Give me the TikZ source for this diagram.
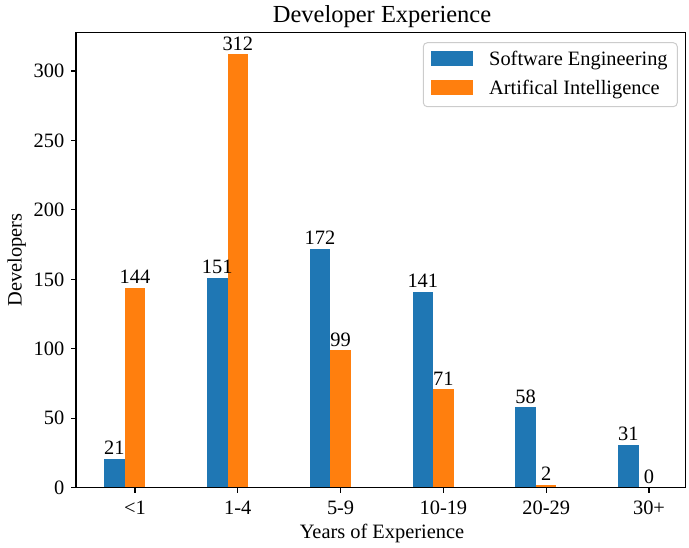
\documentclass[tikz,border=0pt]{standalone}
\usepackage{fontspec}
\setmainfont{Liberation Serif}
\definecolor{seblue}{HTML}{1F77B4}
\definecolor{aiorange}{HTML}{FF7F0E}
\definecolor{legendgray}{HTML}{CCCCCC}
\begin{document}
\begin{tikzpicture}[x=1pt,y=-1pt,
  txt/.style={inner sep=0pt, font=\fontsize{20.4}{24}\selectfont},
  axisline/.style={line width=1.1pt, black},
  tickline/.style={line width=1.1pt, black}]
\useasboundingbox (0,0) rectangle (689,548);

% bars and their value labels (x in category slots, y = 487.7 - 1.389*value)
\foreach \i/\a/\b in {0/21/144, 1/151/312, 2/172/99, 3/141/71, 4/58/2, 5/31/0} {
  \pgfmathsetmacro\tx{135+102.8*\i}
  \pgfmathsetmacro\ya{487.7-1.389*\a}
  \pgfmathsetmacro\yb{487.7-1.389*\b}
  \fill[seblue] ({\tx-30.84},\ya) rectangle ({\tx-10.28},487.7);
  \ifnum\b>0
    \fill[aiorange] ({\tx-10.28},\yb) rectangle ({\tx+10.28},487.7);
  \fi
  \node[txt, anchor=base] (sel\i) at ({\tx-20.56},{\ya-4}) {\a};
  \node[txt, anchor=base] (ail\i) at (\tx,{\yb-4}) {\b};
}

% x ticks and category labels
\foreach \i/\lab in {0/{<1}, 1/{1-4}, 2/{5-9}, 3/{10-19}, 4/{20-29}, 5/{30+}} {
  \pgfmathsetmacro\tx{135+102.8*\i}
  \draw[tickline] (\tx,487.7) -- (\tx,492.6);
  \node[txt, anchor=base] (xt\i) at (\tx,514) {\lab};
}

% y ticks and labels
\foreach \v in {0,50,...,300} {
  \pgfmathsetmacro\ty{487.7-1.389*\v}
  \draw[tickline] (76,\ty) -- (71.1,\ty);
  \node[txt, anchor=east] (yt\v) at (64.5,\ty) {\v};
}

% axes frame
\draw[axisline] (76,32.7) rectangle (685.7,487.7);

% titles
\node[inner sep=0pt, font=\fontsize{24.5}{29}\selectfont, anchor=base] (title) at (382,22.7) {Developer Experience};
\node[txt, anchor=base] (xlab) at (382,538.3) {Years of Experience};
\node[txt, rotate=90, anchor=base] (ylab) at (21.7,260.2) {Developers};

% legend
\draw[draw=legendgray, fill=white, rounded corners=4pt, line width=1pt] (423.3,42.7) rectangle (677.3,106.7);
\fill[seblue] (431,51.3) rectangle (472.7,65.7);
\fill[aiorange] (431,80.3) rectangle (472.7,94.7);
\node[txt, anchor=base west] (legse) at (489,65.7) {Software Engineering};
\node[txt, anchor=base west] (legai) at (489,94.5) {Artifical Intelligence};
\end{tikzpicture}
\end{document}
